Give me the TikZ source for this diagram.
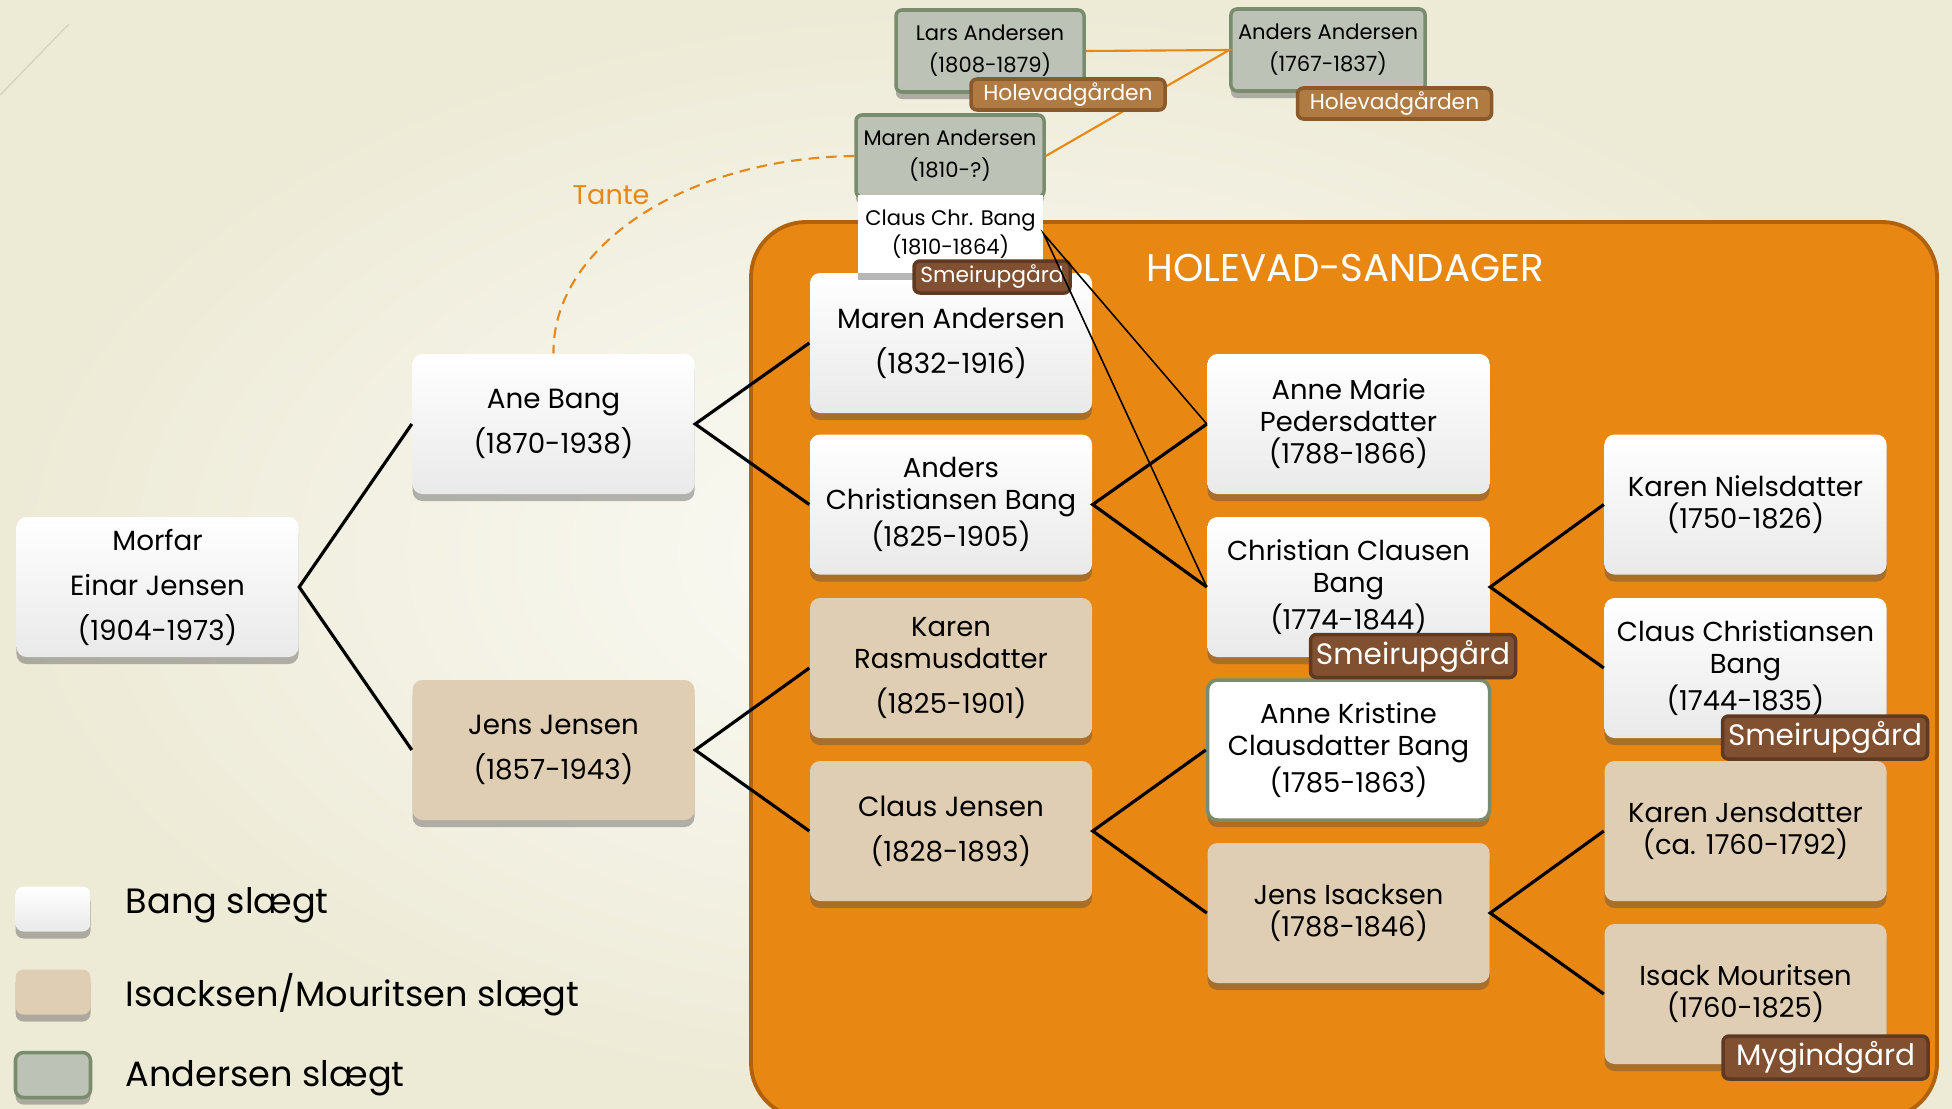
\documentclass[tikz,border=0pt]{standalone}
\usepackage{fontspec}
\setmainfont{Poppins}
\usetikzlibrary{shadows}

\definecolor{bgpale}{RGB}{252,252,248}
\definecolor{bgcream}{RGB}{237,234,214}
\definecolor{bgline}{RGB}{214,211,192}
\definecolor{orangebg}{RGB}{232,135,18}
\definecolor{orangeline}{RGB}{178,98,12}
\definecolor{boxgray}{RGB}{233,233,233}
\definecolor{isacktan}{RGB}{223,206,179}
\definecolor{andfill}{RGB}{188,195,182}
\definecolor{andline}{RGB}{122,140,110}
\definecolor{tagbrown}{RGB}{128,80,48}
\definecolor{tagline}{RGB}{94,58,34}
\definecolor{holefill}{RGB}{176,123,67}
\definecolor{holeline}{RGB}{138,90,45}
\definecolor{tantecol}{RGB}{230,135,25}

\begin{document}
\begin{tikzpicture}[
    every node/.style={inner sep=2pt},
    shadowed/.style={drop shadow={shadow xshift=0pt, shadow yshift=-2pt, opacity=0.4, fill=black!70}},
    person/.style={rectangle, rounded corners=0.1cm, minimum width=2.82cm, minimum height=1.40cm,
        align=center, font={\fontsize{7.8}{9.1}\selectfont}, shadowed},
    wide/.style={font={\fontsize{7.9}{12.8}\selectfont}},
    bang/.style={person, top color=white, bottom color=boxgray},
    isack/.style={person, fill=isacktan},
    andbox/.style={rectangle, rounded corners=0.06cm, minimum width=1.88cm, minimum height=0.82cm,
        fill=andfill, draw=andline, line width=1pt, align=center,
        font={\fontsize{6.0}{9.1}\selectfont}, shadowed},
    gaard/.style={rectangle, rounded corners=0.06cm, fill=tagbrown, draw=tagline, line width=1pt,
        text=white, minimum width=2.05cm, minimum height=0.43cm, inner sep=1pt,
        font={\fontsize{8.4}{10}\selectfont}},
    smallgaard/.style={gaard, minimum width=1.56cm, minimum height=0.32cm, font={\fontsize{6.2}{8}\selectfont}},
    holegaard/.style={smallgaard, fill=holefill, draw=holeline, minimum width=1.94cm, minimum height=0.31cm},
    key/.style={rectangle, rounded corners=0.08cm, minimum width=0.75cm, minimum height=0.45cm, shadowed},
    keytext/.style={anchor=west, font={\fontsize{10}{12}\selectfont}}
]
\useasboundingbox (0,0) rectangle (19.52,-11.08);
\clip (0,0) rectangle (19.52,-11.08);

% background
\shade[inner color=bgpale, outer color=bgcream] (0,0) rectangle (19.52,-11.08);
\draw[bgline] (0.69,-0.24) -- (0,-0.95);

% holevad-sandager area
\filldraw[fill=orangebg, draw=orangeline, line width=1.1pt, rounded corners=0.55cm]
    (7.51,-2.22) rectangle (19.37,-11.18);
\node (title) at (13.45,-2.68) [text=white, font={\fontsize{11}{13}\selectfont}] {HOLEVAD-SANDAGER};

% people
\node (morfar) at (1.575,-5.87) [bang, wide] {Morfar\\Einar Jensen\\(1904-1973)};
\node (ane) at (5.535,-4.24) [bang, wide] {Ane Bang\\(1870-1938)};
\node (jens) at (5.535,-7.50) [isack, wide] {Jens Jensen\\(1857-1943)};

\node (maren) at (9.51,-3.43) [bang, wide] {Maren Andersen\\(1832-1916)};
\node (anders) at (9.51,-5.045) [bang] {Anders\\Christiansen Bang\\(1825-1905)};
\node (karenr) at (9.51,-6.68) [isack] {Karen\\Rasmusdatter\\[3.6pt](1825-1901)};
\node (clausj) at (9.51,-8.31) [isack, wide] {Claus Jensen\\(1828-1893)};

\node (annem) at (13.485,-4.24) [bang] {Anne Marie\\Pedersdatter\\(1788-1866)};
\node (christian) at (13.485,-5.87) [bang] {Christian Clausen\\Bang\\(1774-1844)};
\node (annek) at (13.485,-7.50) [person, fill=white, draw=andline, line width=1pt] {Anne Kristine\\Clausdatter Bang\\(1785-1863)};
\node (jensi) at (13.485,-9.13) [isack] {Jens Isacksen\\(1788-1846)};

\node (karenn) at (17.455,-5.045) [bang] {Karen Nielsdatter\\(1750-1826)};
\node (clauscb) at (17.455,-6.68) [bang] {Claus Christiansen\\Bang\\(1744-1835)};
\node (karenj) at (17.455,-8.31) [isack] {Karen Jensdatter\\(ca. 1760-1792)};
\node (isackm) at (17.455,-9.94) [isack] {Isack Mouritsen\\(1760-1825)};

% andersen branch
\node (lars) at (9.90,-0.51) [andbox] {Lars Andersen\\(1808-1879)};
\node (andersa) at (13.28,-0.50) [andbox] {Anders Andersen\\(1767-1837)};
\node (marena) at (9.50,-1.56) [andbox] {Maren Andersen\\(1810-?)};
\node (clauschr) at (9.505,-2.34) [rectangle, fill=white, minimum width=1.85cm, minimum height=0.78cm,
    align=center, font={\fontsize{6.0}{7.1}\selectfont}, shadowed] {Claus Chr. Bang\\(1810-1864)};

\draw[orangebg, line width=0.6pt] (lars.east) -- (andersa.west) -- (marena.east);

% farms
\node (tlars) at (10.68,-0.945) [holegaard] {Holevadgården};
\node (tandersa) at (13.945,-1.035) [holegaard] {Holevadgården};
\node (tclauschr) at (9.92,-2.77) [smallgaard] {Smeirupgård};
\node (tchristian) at (14.13,-6.56) [gaard] {Smeirupgård};
\node (tclauscb) at (18.25,-7.375) [gaard] {Smeirupgård};
\node (tisackm) at (18.255,-10.575) [gaard] {Mygindgård};

% lines
\foreach \p/\f/\m in {morfar/ane/jens, ane/maren/anders, jens/karenr/clausj,
        anders/annem/christian, clausj/annek/jensi, christian/karenn/clauscb, jensi/karenj/isackm} {
    \draw[line width=0.9pt] (\f.west) -- (\p.east) -- (\m.west);
}
\draw[line width=0.45pt] (annem.west) -- (clauschr.east) -- (christian.west);

\draw[tantecol, line width=0.6pt, dash pattern=on 3pt off 2pt]
    (marena.west) .. controls (6.87,-1.58) and (5.52,-2.46) .. (ane.north);
\node (tante) at (6.11,-1.95) [text=tantecol, font={\fontsize{7.7}{9}\selectfont}] {Tante};

% legend
\node (bangkey) at (0.53,-9.09) [key, top color=white, bottom color=boxgray] {};
\node (isackkey) at (0.53,-9.92) [key, fill=isacktan] {};
\node (andkey) at (0.53,-10.75) [key, fill=andfill, draw=andline, line width=1pt] {};
\node (bangtext) at (1.18,-9.05) [keytext] {Bang slægt};
\node (isacktext) at (1.18,-9.95) [keytext] {Isacksen/Mouritsen slægt};
\node (andtext) at (1.18,-10.78) [keytext] {Andersen slægt};
\end{tikzpicture}
\end{document}
